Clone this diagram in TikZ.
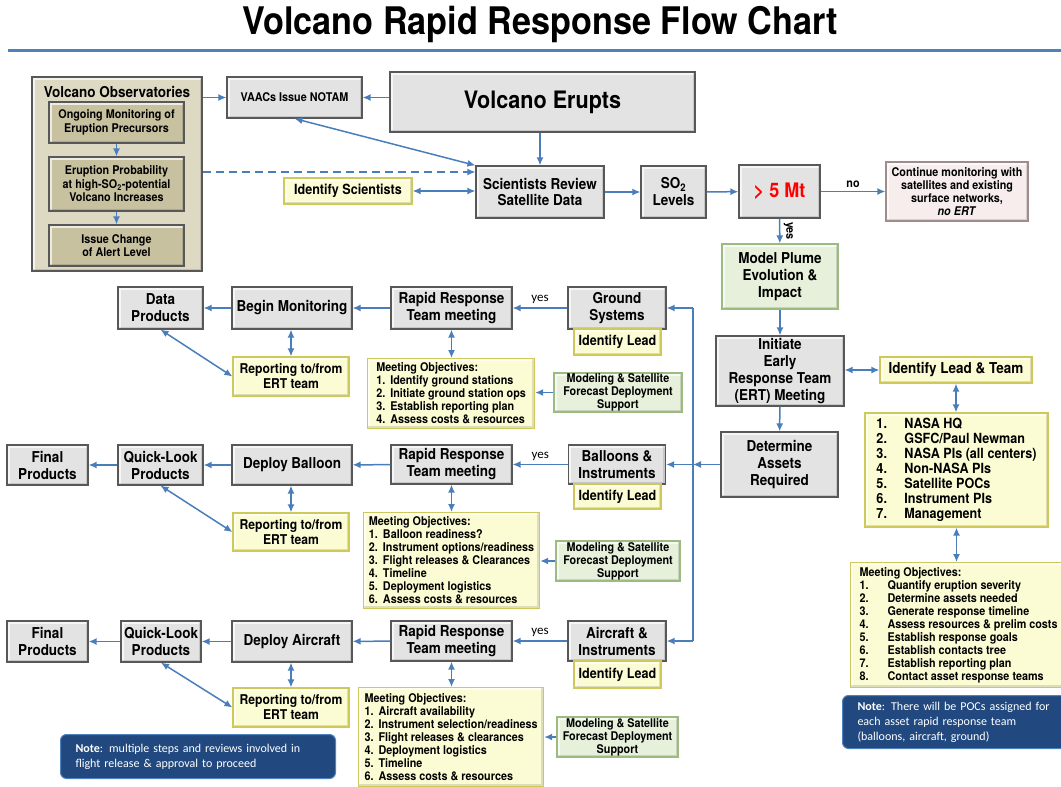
\documentclass[tikz,border=0pt]{standalone}
\usepackage{fontspec}
\setmainfont[FakeStretch=0.9]{TeX Gyre Heros}
\newfontfamily\notefont{Carlito}
\usetikzlibrary{arrows.meta}

\definecolor{flowblue}{HTML}{4A7EBB}
\definecolor{boxgray}{HTML}{E3E3E3}
\definecolor{boxline}{HTML}{585858}
\definecolor{tanfill}{HTML}{DDD9C3}
\definecolor{khaki}{HTML}{C7C1A0}
\definecolor{paleyellow}{HTML}{FCFCD4}
\definecolor{yellowline}{HTML}{CFC95A}
\definecolor{palegreen}{HTML}{E6F0DA}
\definecolor{greenline}{HTML}{9BBB80}
\definecolor{palepink}{HTML}{F7EDED}
\definecolor{pinkline}{HTML}{A08C8C}
\definecolor{notefill}{HTML}{21497F}
\definecolor{noteline}{HTML}{4F81BD}

\newcommand{\objnum}[1]{\makebox[14pt][l]{#1}}
\newcommand{\listnum}[1]{\makebox[28pt][l]{#1}}

\begin{document}
\begin{tikzpicture}[x=1pt,y=-1pt,>={Latex[length=8pt,width=7pt]},
  bevel/.style={path picture={
    \draw[white,opacity=0.7,line width=5pt] (path picture bounding box.south west) -- (path picture bounding box.north west) -- (path picture bounding box.north east);
    \draw[black,opacity=0.12,line width=5pt] (path picture bounding box.north east) -- (path picture bounding box.south east) -- (path picture bounding box.south west);}},
  graybox/.style={rectangle,draw=boxline,fill=boxgray,line width=1.2pt,align=center,inner sep=0pt,bevel,font=\fontsize{15}{17}\selectfont\bfseries},
  tanbox/.style={graybox,fill=tanfill},
  khakibox/.style={graybox,fill=khaki,font=\fontsize{12}{13.5}\selectfont\bfseries},
  yelbox/.style={graybox,draw=yellowline,fill=paleyellow},
  grnbox/.style={graybox,draw=greenline,fill=palegreen},
  pinkbox/.style={graybox,draw=pinkline,fill=palepink,font=\fontsize{12}{13}\selectfont\bfseries},
  objbox/.style={yelbox,align=left,font=\fontsize{12}{13}\selectfont\bfseries},
  modbox/.style={grnbox,font=\fontsize{12}{13}\selectfont\bfseries},
  repbox/.style={yelbox,font=\fontsize{13.5}{15}\selectfont\bfseries},
  leadbox/.style={yelbox,font=\fontsize{14}{16}\selectfont\bfseries},
  notebox/.style={rectangle,rounded corners=6pt,draw=noteline,fill=notefill,line width=1pt,text=white,align=left,inner xsep=15pt,font=\notefont\fontsize{12}{15}\selectfont},
  yeslabel/.style={font=\notefont\fontsize{13}{15}\selectfont,text=black},
  flow/.style={->,draw=flowblue,line width=1.5pt},
  twoway/.style={<->,draw=flowblue,line width=1.5pt}]
\useasboundingbox (0,0) rectangle (1061,787);

% title
\node[font=\fontsize{38}{40}\selectfont\bfseries] (title) at (540,24) {Volcano Rapid Response Flow Chart};
\draw[noteline,line width=3pt] (8,50) -- (1061,50);

% top part
\node[tanbox,minimum width=170,minimum height=194] (vo) at (117,174) {};
\node[font=\fontsize{15}{17}\selectfont\bfseries] (votitle) at (117,92) {Volcano Observatories};
\node[khakibox,minimum width=135,minimum height=41] (vo1) at (116.5,122.5) {Ongoing Monitoring of\\Eruption Precursors};
\node[khakibox,minimum width=135,minimum height=54] (vo2) at (116.5,184) {Eruption Probability\\at high-SO\textsubscript{2}-potential\\Volcano Increases};
\node[khakibox,minimum width=135,minimum height=41] (vo3) at (116.5,245.5) {Issue Change\\of Alert Level};
\node[graybox,minimum width=135,minimum height=41,font=\fontsize{12}{14}\selectfont\bfseries] (vaac) at (294.5,97.5) {VAACs Issue NOTAM};
\node[graybox,minimum width=305,minimum height=60,font=\fontsize{24}{26}\selectfont\bfseries] (erupt) at (542.5,102) {Volcano Erupts};
\node[graybox,minimum width=128,minimum height=52] (sci) at (540,192) {Scientists Review\\Satellite Data};
\node[leadbox,minimum width=128,minimum height=26] (idsci) at (348,191) {Identify Scientists};
\node[graybox,minimum width=65,minimum height=52] (so2) at (673.5,192) {SO\textsubscript{2}\\Levels};
\node[graybox,minimum width=81,minimum height=53,text=red,font=\fontsize{20}{22}\selectfont\bfseries] (mt) at (779.5,191.5) {> 5 Mt};
\node[pinkbox,minimum width=142,minimum height=59] (cont) at (957,191.5) {Continue monitoring with\\satellites and existing\\surface networks,\\\textit{no ERT}};

% ERT column
\node[grnbox,minimum width=116,minimum height=65] (plume) at (780,276.5) {Model Plume\\Evolution \&\\Impact};
\node[graybox,minimum width=128,minimum height=70] (ert) at (780,371) {Initiate\\Early\\Response Team\\(ERT) Meeting};
\node[graybox,minimum width=117,minimum height=65] (assets) at (779.5,464.5) {Determine\\Assets\\Required};
\node[yelbox,minimum width=152,minimum height=26] (team) at (956,370) {Identify Lead \& Team};
\node[yelbox,minimum width=183,minimum height=114,align=left,font=\fontsize{14}{15}\selectfont\bfseries] (nasa) at (956.5,470) {\listnum{1.}NASA HQ\\\listnum{2.}GSFC/Paul Newman\\\listnum{3.}NASA PIs (all centers)\\\listnum{4.}Non-NASA PIs\\\listnum{5.}Satellite POCs\\\listnum{6.}Instrument PIs\\\listnum{7.}Management};
\node[objbox,minimum width=216,minimum height=125,anchor=north west] (ertobj) at (850,562) {Meeting Objectives:\\\listnum{1.}Quantify eruption severity\\\listnum{2.}Determine assets needed\\\listnum{3.}Generate response timeline\\\listnum{4.}Assess resources \& prelim costs\\\listnum{5.}Establish response goals\\\listnum{6.}Establish contacts tree\\\listnum{7.}Establish reporting plan\\\listnum{8.}Contact asset response teams};
\node[notebox,minimum width=224,minimum height=53,text width=194,anchor=north west] (note2) at (842,695) {\textbf{Note}: There will be POCs assigned for\\each asset rapid response team\\(balloons, aircraft, ground)};

% ground systems
\node[graybox,minimum width=98,minimum height=42] (gsys) at (617,308) {Ground\\Systems};
\node[leadbox,minimum width=87,minimum height=26] (glead) at (617.5,342) {Identify Lead};
\node[graybox,minimum width=121,minimum height=42] (grrt) at (451.5,308) {Rapid Response\\Team meeting};
\node[objbox,minimum width=167,minimum height=70,anchor=north west] (gobj) at (367,358) {Meeting Objectives:\\\objnum{1.}Identify ground stations\\\objnum{2.}Initiate ground station ops\\\objnum{3.}Establish reporting plan\\\objnum{4.}Assess costs \& resources};
\node[modbox,minimum width=128,minimum height=39] (gmod) at (618,392.5) {Modeling \& Satellite\\Forecast Deployment\\Support};
\node[graybox,minimum width=120,minimum height=42] (gmon) at (292,308) {Begin Monitoring};
\node[graybox,minimum width=85,minimum height=42] (gdata) at (160.5,308) {Data\\Products};
\node[repbox,minimum width=116,minimum height=39] (grep) at (291,376.5) {Reporting to/from\\ERT team};

% balloons
\node[graybox,minimum width=97,minimum height=39] (bsys) at (617,464.5) {Balloons \&\\Instruments};
\node[leadbox,minimum width=87,minimum height=25] (blead) at (617.5,496.5) {Identify Lead};
\node[graybox,minimum width=121,minimum height=39] (brrt) at (451.5,464.5) {Rapid Response\\Team meeting};
\node[objbox,minimum width=176,minimum height=96,anchor=north west] (bobj) at (363,512) {Meeting Objectives:\\\objnum{1.}Balloon readiness?\\\objnum{2.}Instrument options/readiness\\\objnum{3.}Flight releases \& Clearances\\\objnum{4.}Timeline\\\objnum{5.}Deployment logistics\\\objnum{6.}Assess costs \& resources};
\node[modbox,minimum width=124,minimum height=40] (bmod) at (618,561) {Modeling \& Satellite\\Forecast Deployment\\Support};
\node[graybox,minimum width=120,minimum height=40] (bdep) at (292,465) {Deploy Balloon};
\node[graybox,minimum width=85,minimum height=40] (bql) at (160.5,465) {Quick-Look\\Products};
\node[graybox,minimum width=81,minimum height=40] (bfin) at (47.5,465) {Final\\Products};
\node[repbox,minimum width=116,minimum height=38] (brep) at (291,532) {Reporting to/from\\ERT team};

% aircraft
\node[graybox,minimum width=98,minimum height=40] (asys) at (617,641) {Aircraft \&\\Instruments};
\node[leadbox,minimum width=87,minimum height=27] (alead) at (617.5,674.5) {Identify Lead};
\node[graybox,minimum width=121,minimum height=40] (arrt) at (451.5,641) {Rapid Response\\Team meeting};
\node[objbox,minimum width=185,minimum height=99,anchor=north west] (aobj) at (358,687) {Meeting Objectives:\\\objnum{1.}Aircraft availability\\\objnum{2.}Instrument selection/readiness\\\objnum{3.}Flight releases \& clearances\\\objnum{4.}Deployment logistics\\\objnum{5.}Timeline\\\objnum{6.}Assess costs \& resources};
\node[modbox,minimum width=121,minimum height=40] (amod) at (617.5,737) {Modeling \& Satellite\\Forecast Deployment\\Support};
\node[graybox,minimum width=120,minimum height=41] (adep) at (292,641.5) {Deploy Aircraft};
\node[graybox,minimum width=80,minimum height=41] (aql) at (161,641.5) {Quick-Look\\Products};
\node[graybox,minimum width=81,minimum height=41] (afin) at (47.5,641.5) {Final\\Products};
\node[repbox,minimum width=116,minimum height=39] (arep) at (291,707.5) {Reporting to/from\\ERT team};
\node[notebox,minimum width=275,minimum height=44,text width=245,anchor=north west] (note1) at (60,734) {\textbf{Note}: multiple steps and reviews involved in\\flight release \& approval to proceed};

% connectors, top
\coordinate (dash) at (0,172);
\draw[flow] (vo1) -- (vo2);
\draw[flow] (vo2) -- (vo3);
\draw[flow] (vo.east |- vaac) -- (vaac);
\draw[flow] (erupt.west |- vaac) -- (vaac);
\draw[twoway] (vaac.south) -- (sci.north west);
\draw[flow,dash pattern=on 8pt off 5pt] (vo.east |- dash) -- (sci.west |- dash);
\draw[twoway] (idsci) -- (sci.west |- idsci);
\draw[flow] (sci |- erupt.south) -- (sci);
\draw[flow] (sci) -- (so2);
\draw[flow] (so2) -- (mt);
\draw[flow] (mt) -- node[above,font=\fontsize{12}{14}\selectfont\bfseries,text=black] {no} (cont);
\draw[flow] (mt) -- node[rotate=-90,anchor=south,font=\fontsize{12}{14}\selectfont\bfseries,text=black] {yes} (plume);
\draw[flow] (plume) -- (ert);
\draw[flow] (ert) -- (assets);
\draw[twoway] (ert.east |- team) -- (team);
\draw[twoway] (team) -- (team |- nasa.north);
\draw[twoway] (nasa) -- (nasa |- ertobj.north);

% asset bus
\coordinate (bustop) at (693,308);
\coordinate (busmid) at (693,464.5);
\coordinate (busbot) at (693,641);
\draw[flowblue,line width=1.5pt] (bustop) -- (busbot);
\draw[flow] (assets) -- (busmid);
\draw[flow] (bustop) -- (gsys);
\draw[flow] (busmid) -- (bsys);
\draw[flow] (busbot) -- (asys);

% ground row
\draw[flow] (gsys) -- node[above,yeslabel] {yes} (grrt);
\draw[flow] (grrt) -- (gmon);
\draw[flow] (gmon) -- (gdata);
\draw[twoway] (grrt) -- (grrt |- gobj.north);
\draw[flow] (gmod) -- (gobj.east |- gmod);
\draw[twoway] (grep |- gmon.south) -- (grep);
\draw[twoway] (gdata.south) -- (grep.west);

% balloon row
\draw[flow] (bsys) -- node[above,yeslabel] {yes} (brrt);
\draw[flow] (brrt) -- (bdep);
\draw[flow] (bdep) -- (bql);
\draw[flow] (bql) -- (bfin);
\draw[twoway] (brrt) -- (brrt |- bobj.north);
\draw[flow] (bmod) -- (bobj.east |- bmod);
\draw[twoway] (brep |- bdep.south) -- (brep);
\draw[twoway] (bql.south) -- (brep.west);

% aircraft row
\draw[flow] (asys) -- node[above,yeslabel] {yes} (arrt);
\draw[flow] (arrt) -- (adep);
\draw[flow] (adep) -- (aql);
\draw[flow] (aql) -- (afin);
\draw[twoway] (arrt) -- (arrt |- aobj.north);
\draw[flow] (amod) -- (aobj.east |- amod);
\draw[twoway] (arep |- adep.south) -- (arep);
\draw[twoway] (aql.south) -- (arep.west);
\end{tikzpicture}
\end{document}
